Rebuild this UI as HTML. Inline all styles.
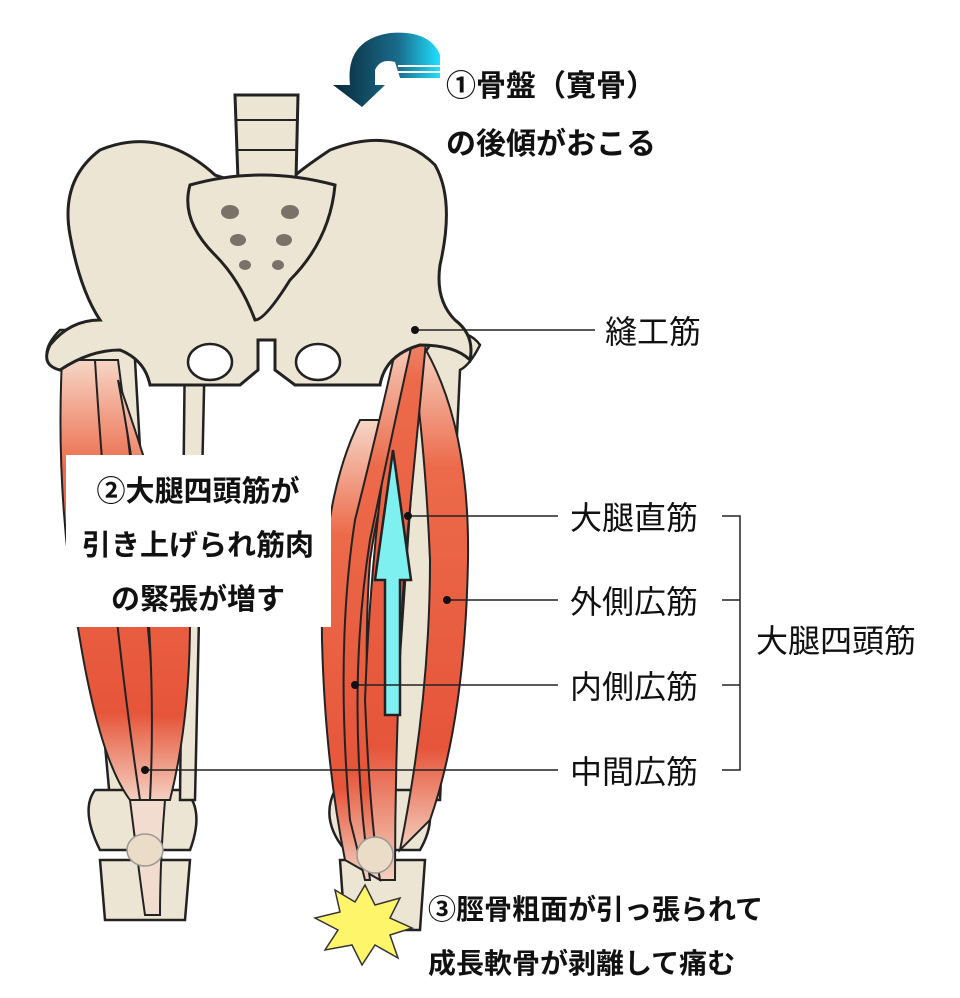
<!DOCTYPE html>
<html><head><meta charset="utf-8"><style>
html,body{margin:0;padding:0;background:#fff;}
svg{display:block;}
text{font-family:"Liberation Sans","Noto Sans CJK JP",sans-serif;fill:#111;}
.b{font-weight:bold;font-size:29px;}
.t{font-weight:bold;font-size:30px;}
.c{font-weight:bold;font-size:28px;}
.r{font-size:32px;}
</style></head><body>
<svg width="960" height="998" viewBox="0 0 960 998" xmlns="http://www.w3.org/2000/svg">
<defs>
<linearGradient id="mus" x1="0" y1="0" x2="1" y2="0">
<stop offset="0" stop-color="#e8563a"/><stop offset="0.5" stop-color="#f07a5c"/><stop offset="1" stop-color="#e04a30"/>
</linearGradient>
<linearGradient id="musv" x1="0" y1="0" x2="0" y2="1">
<stop offset="0" stop-color="#f6d6c6"/><stop offset="0.25" stop-color="#ec6a4a"/><stop offset="0.8" stop-color="#e6553a"/><stop offset="1" stop-color="#f4d0c0"/>
</linearGradient>
<linearGradient id="arr" x1="0" y1="0" x2="1" y2="0">
<stop offset="0" stop-color="#0a2a3a"/><stop offset="0.6" stop-color="#1a6a8a"/><stop offset="1" stop-color="#20e0ff"/>
</linearGradient>
</defs>

<g stroke="#222" stroke-width="2.5" fill="#ede5d3">
<path d="M60 330 Q40 350 50 365 L70 360 L110 800 L160 800 L135 360 Q150 340 130 330 Z"/>
<path d="M95 790 Q80 810 100 850 L190 850 Q205 810 185 790 Z"/>
<path d="M100 860 L105 920 L185 920 L190 860 Z"/>
<path d="M185 340 L195 330 L205 345 L195 800 L180 800 Z"/>
</g>
<g stroke="#222" stroke-width="2" fill="url(#musv)">
<path d="M62 360 Q55 500 80 640 Q100 760 130 800 L150 800 Q120 600 95 360 Z"/>
<path d="M95 360 Q110 600 140 800 L160 800 Q150 600 118 360 Z"/>
<path d="M118 380 Q160 500 190 620 Q190 720 170 800 L150 800 Q160 600 118 380 Z"/>
<path d="M130 800 Q140 880 145 915 L160 915 Q160 860 165 800 Z" fill="#f2dccf"/>
</g>
<ellipse cx="145" cy="850" rx="18" ry="16" fill="#eadcc6" stroke="#999" stroke-width="1.5"/>

<g stroke="#222" stroke-width="2.5" fill="#ede5d3">
<path d="M440 330 Q470 330 480 345 Q470 365 460 370 L440 800 L390 800 L420 360 Z"/>
<path d="M335 790 Q320 820 345 850 L420 850 Q440 815 420 790 Z"/>
<path d="M340 860 L345 930 L420 930 L425 860 Z"/>
</g>
<g stroke="#222" stroke-width="2" fill="url(#mus)">
<path d="M360 420 Q320 500 322 640 Q325 760 345 860 L380 880 Q360 700 370 560 Q385 460 410 420 Z" fill="url(#musv)"/>
<path d="M420 340 Q470 420 468 560 Q465 720 430 820 L400 850 Q430 700 430 560 Q425 440 410 340 Z" fill="url(#musv)"/>
<path d="M410 260 Q400 320 390 420 Q370 560 365 700 Q370 820 380 880 L395 880 Q395 720 405 560 Q420 400 430 300 Q440 240 445 215 L435 215 Z" fill="url(#musv)"/>
<path d="M400 330 Q380 420 355 520 Q335 650 350 820 L365 880 L370 880 Q345 700 370 540 Q395 420 415 330 Z" fill="url(#musv)"/>
</g>
<ellipse cx="375" cy="855" rx="18" ry="18" fill="#eadcc6" stroke="#999" stroke-width="1.5"/>

<g stroke="#222" stroke-width="3" fill="#ede5d3">
<path d="M215 175 Q160 125 100 150 Q60 180 70 235 Q80 290 100 320 Q70 320 50 345 Q40 365 60 370 Q90 350 120 350 Q145 360 150 385 L240 385 L258 370 L258 340 L275 340 L275 370 L295 385 L380 385 Q385 355 420 345 Q455 345 470 360 Q475 335 455 320 Q435 300 440 265 Q455 200 435 165 Q395 125 330 150 Q300 170 290 180 L230 180 Z"/>
<path d="M235 95 L298 95 L296 180 L238 180 Z"/>
<path d="M190 185 Q260 165 335 185 Q330 240 290 280 Q265 320 255 320 Q240 280 215 255 Q180 220 190 185 Z"/>
</g>
<g fill="#fff" stroke="#222" stroke-width="2.5">
<ellipse cx="210" cy="362" rx="22" ry="18"/>
<ellipse cx="318" cy="362" rx="22" ry="18"/>
</g>
<g fill="#7a7268">
<ellipse cx="230" cy="212" rx="9" ry="7"/><ellipse cx="290" cy="212" rx="9" ry="7"/>
<ellipse cx="238" cy="240" rx="8" ry="6"/><ellipse cx="284" cy="240" rx="8" ry="6"/>
<ellipse cx="245" cy="265" rx="6" ry="5"/><ellipse cx="278" cy="265" rx="6" ry="5"/>
</g>
<g stroke="#222" stroke-width="2" fill="none">
<line x1="236" y1="120" x2="298" y2="120"/><line x1="237" y1="150" x2="297" y2="150"/>
</g>

<path d="M385 715 L385 580 L375 580 L393 450 L411 580 L400 580 L400 715 Z" fill="#7ff0f0" stroke="#222" stroke-width="2.5"/>

<path d="M350 85 Q345 40 390 33 Q430 30 440 55 L440 78 L400 78 L395 62 Q380 58 375 70 L375 85 L385 85 L362 107 L333 85 Z" fill="url(#arr)"/>
<g stroke="#fff" stroke-width="2"><line x1="398" y1="66" x2="440" y2="66"/><line x1="398" y1="72" x2="440" y2="72"/></g>

<polygon points="365,885 375,905 400,898 390,918 412,928 390,935 398,958 375,945 362,965 352,945 325,950 338,930 315,918 340,912 335,890 355,902" fill="#fff56a" stroke="#333" stroke-width="1.5"/>

<rect x="66" y="455" width="265" height="172" fill="#fff"/>
<text class="b" x="198" y="501" text-anchor="middle">②大腿四頭筋が</text>
<text class="b" x="198" y="555" text-anchor="middle">引き上げられ筋肉</text>
<text class="b" x="198" y="609" text-anchor="middle">の緊張が増す</text>

<text class="t" x="446" y="96">①骨盤（寛骨）</text>
<text class="t" x="446" y="154">の後傾がおこる</text>

<g stroke="#222" stroke-width="1.5">
<line x1="415" y1="330" x2="595" y2="330"/>
<line x1="408" y1="516" x2="558" y2="516"/>
<line x1="447" y1="600" x2="558" y2="600"/>
<line x1="355" y1="685" x2="558" y2="685"/>
<line x1="145" y1="770" x2="558" y2="770"/>
<polyline fill="none" points="722,516 740,516 740,770 722,770"/>
<line x1="722" y1="600" x2="740" y2="600"/>
<line x1="722" y1="685" x2="740" y2="685"/>
</g>
<g fill="#111">
<circle cx="415" cy="330" r="4"/><circle cx="408" cy="516" r="4"/><circle cx="447" cy="600" r="4"/><circle cx="355" cy="685" r="4"/><circle cx="145" cy="770" r="4"/>
</g>
<text class="r" x="605" y="343">縫工筋</text>
<text class="r" x="570" y="529">大腿直筋</text>
<text class="r" x="570" y="613">外側広筋</text>
<text class="r" x="570" y="698">内側広筋</text>
<text class="r" x="570" y="783">中間広筋</text>
<text class="r" x="756" y="652">大腿四頭筋</text>

<text class="c" x="428" y="919">③脛骨粗面が引っ張られて</text>
<text class="c" x="428" y="973">成長軟骨が剥離して痛む</text>
</svg>
</body></html>
